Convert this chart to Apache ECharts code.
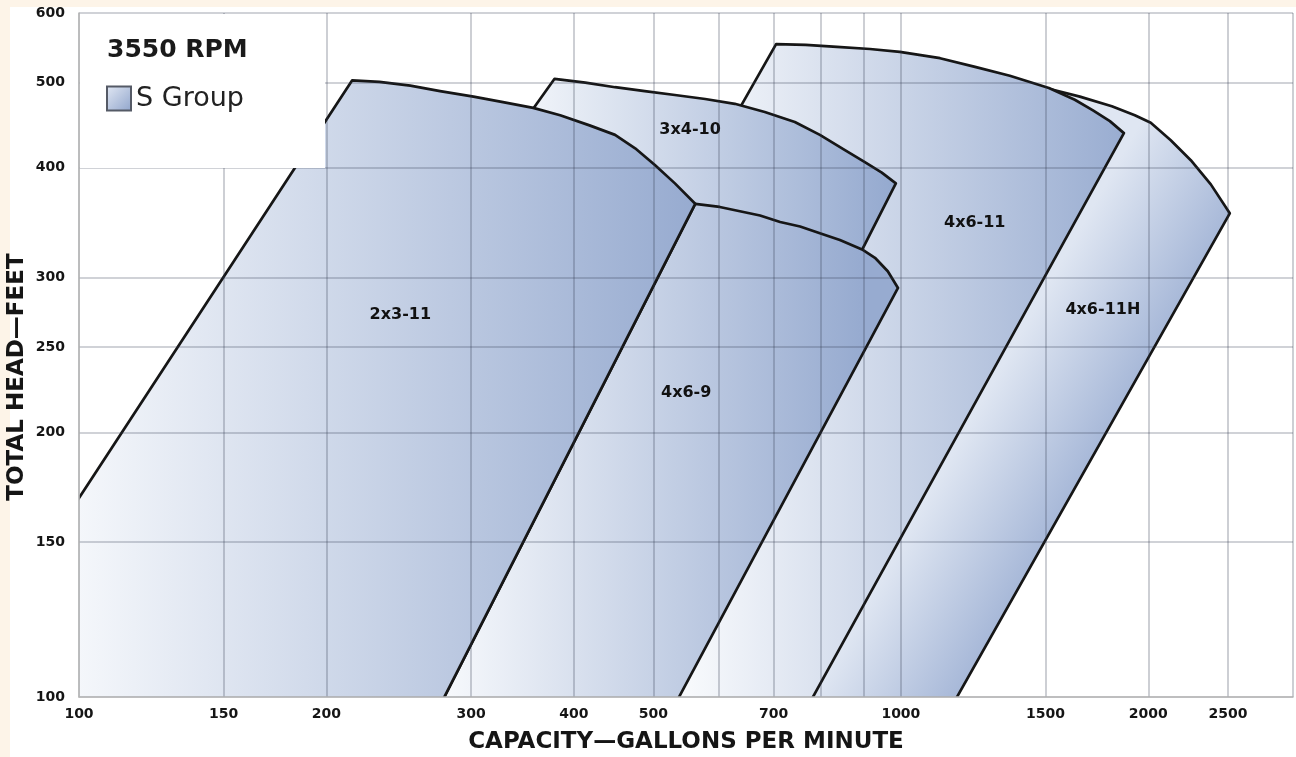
<!DOCTYPE html>
<html>
<head>
<meta charset="utf-8">
<script src="https://cdn.jsdelivr.net/npm/echarts@6/dist/echarts.min.js"></script>
<style>
  html, body { margin: 0; padding: 0; background: #fdf4e8; }
  #chart { position: absolute; left: 0; top: 0; width: 1296px; height: 757px; }
</style>
</head>
<body>
<div id="chart"></div>
<script>
// ---- Data ----
// Axis grid / tick values
const xGridValues = [100, 150, 200, 300, 400, 500, 600, 700, 800, 900, 1000, 1500, 2000, 2500, 3000];
const xTickLabels = [100, 150, 200, 300, 400, 500, 700, 1000, 1500, 2000, 2500];
const yGridValues = [100, 150, 200, 250, 300, 400, 500, 600];
const yTickLabels = [100, 150, 200, 250, 300, 400, 500, 600];

// Pump coverage areas: [capacity gpm, head ft] boundary points
const pump_4x6_11H = [[332,87],[997,531],[1147,520],[1320,506],[1514,492],[1651,482],[1806,470],[1926,459],[2014,450],[2130,430],[2253,408],[2383,383],[2513,355],[1076,87]];
const pump_4x6_11  = [[229,87],[705,553],[766,552],[836,549],[917,546],[997,542],[1116,533],[1231,521],[1357,509],[1514,493],[1628,478],[1713,465],[1796,452],[1868,438],[720,87]];
const pump_3x4_10  = [[99,87],[379,505],[413,500],[449,494],[488,489],[531,484],[578,479],[628,473],[683,463],[743,451],[797,436],[855,419],[904,406],[948,395],[986,384],[440,87]];
const pump_4x6_9   = [[258,87],[562,364],[602,361],[637,357],[674,353],[713,347],[754,343],[797,337],[843,331],[897,323],[930,316],[964,305],[992,292],[496,87]];
const pump_2x3_11  = [[63,87],[215,503],[232,501],[253,496],[275,489],[302,482],[328,475],[357,468],[385,459],[418,447],[449,436],[475,421],[502,403],[531,384],[562,364],[258,87]];

// drawn back to front
const pumpNames = ['4x6-11H', '4x6-11', '3x4-10', '4x6-9', '2x3-11'];
const pumpAreas = [pump_4x6_11H, pump_4x6_11, pump_3x4_10, pump_4x6_9, pump_2x3_11];
// label anchor (gpm, head)
const labelGpm  = [1761, 1230, 554, 548, 246];
const labelHead = [276, 346, 442, 222, 272];
// shading direction (light -> dark), in data units
const shadeFrom = [[782,100],[554,300],[364,400],[278,200],[95,300]];
const shadeTo   = [[1061,85],[1926,300],[986,400],[892,200],[562,300]];
const shadeLight = ['#dfe6f2', '#f7f9fc', '#eef2f8', '#f7f9fc', '#f7f9fc'];
const shadeDark  = ['#a7b8d8', '#97abd0', '#94a9cf', '#97abd0', '#97abd0'];

const FONT = 'DejaVu Sans';

const chart = echarts.init(document.getElementById('chart'), null, { renderer: 'canvas' });

function renderItem(params, api) {
  const i = params.dataIndex;
  const pts = pumpAreas[i].map(p => api.coord(p));
  const a = api.coord(shadeFrom[i]);
  const b = api.coord(shadeTo[i]);
  const lab = api.coord([api.value(0), api.value(1)]);
  return {
    type: 'group',
    children: [
      {
        type: 'polygon',
        z2: i,
        shape: { points: pts },
        style: {
          fill: new echarts.graphic.LinearGradient(a[0], a[1], b[0], b[1], [
            { offset: 0, color: shadeLight[i] }, { offset: 1, color: shadeDark[i] }
          ], true),
          stroke: '#161616',
          lineWidth: 2.7,
          lineJoin: 'round'
        }
      },
      {
        type: 'text',
        z2: 100,
        x: lab[0], y: lab[1],
        style: {
          text: pumpNames[i],
          fill: '#111',
          font: 'bold 16px "' + FONT + '"',
          align: 'center',
          verticalAlign: 'middle'
        }
      }
    ]
  };
}

const plain = v => String(Math.round(v));
const axisLabelStyle = { fontFamily: FONT, fontWeight: 'bold', fontSize: 14, color: '#151515', formatter: plain };
const nameStyle = { fontFamily: FONT, fontWeight: 'bold', fontSize: 23, color: '#151515' };
const gridLine = { show: true, lineStyle: { color: 'rgba(45,55,75,0.3)', width: 1.6 } };

const option = {
  animation: false,
  backgroundColor: '#fdf4e8',
  grid: { left: 79, top: 13, right: 3, bottom: 60, containLabel: false, outerBoundsMode: 'none' },
  title: {
    text: '3550 RPM', left: 107, top: 38, padding: 0, z: 20,
    textStyle: { fontFamily: FONT, fontWeight: 'bold', fontSize: 25, color: '#1a1a1a' }
  },
  legend: {
    left: 106, top: 85, padding: 0, z: 20, selectedMode: false,
    itemWidth: 24, itemHeight: 24,
    textStyle: { fontFamily: FONT, fontSize: 27, color: '#222' },
    data: [{
      name: 'S Group', icon: 'rect',
      itemStyle: {
        color: new echarts.graphic.LinearGradient(0, 0, 1, 1, [
          { offset: 0, color: '#e3e9f4' }, { offset: 1, color: '#8fa4cb' }
        ]),
        borderColor: '#555a66', borderWidth: 2
      }
    }]
  },
  graphic: [
    { type: 'rect', z: -10, silent: true, shape: { x: 10, y: 7, width: 1286, height: 750 }, style: { fill: '#ffffff' } },
    { type: 'rect', z: 10, silent: true, shape: { x: 80, y: 14, width: 245, height: 154 }, style: { fill: '#ffffff' } }
  ],
  xAxis: {
    type: 'log', logBase: 10, min: 100, max: 3000, z: 5,
    name: 'CAPACITY\u2014GALLONS PER MINUTE', nameLocation: 'middle', nameGap: 34,
    nameMoveOverlap: false,
    nameTextStyle: nameStyle,
    axisLine: { show: true, lineStyle: { color: '#b8b8b8', width: 1.6 } },
    axisTick: { show: false, customValues: xGridValues },
    axisLabel: Object.assign({ customValues: xTickLabels, margin: 10 }, axisLabelStyle),
    splitLine: gridLine,
    minorSplitLine: { show: false }
  },
  yAxis: {
    type: 'log', logBase: 10, min: 100, max: 600, z: 5,
    name: 'TOTAL HEAD\u2014FEET', nameLocation: 'middle', nameGap: 50,
    nameMoveOverlap: false,
    nameTextStyle: Object.assign({ padding: [0, 44, 0, 0] }, nameStyle),
    axisLine: { show: true, lineStyle: { color: '#b8b8b8', width: 1.6 } },
    axisTick: { show: false, customValues: yGridValues },
    axisLabel: Object.assign({ customValues: yTickLabels, margin: 14 }, axisLabelStyle),
    splitLine: gridLine
  },
  series: [{
    name: 'S Group',
    type: 'custom',
    coordinateSystem: 'cartesian2d',
    clip: true,
    z: 2,
    renderItem: renderItem,
    encode: { x: 0, y: 1 },
    data: pumpNames.map((n, i) => [labelGpm[i], labelHead[i]])
  }]
};
chart.setOption(option);
</script>
</body>
</html>
